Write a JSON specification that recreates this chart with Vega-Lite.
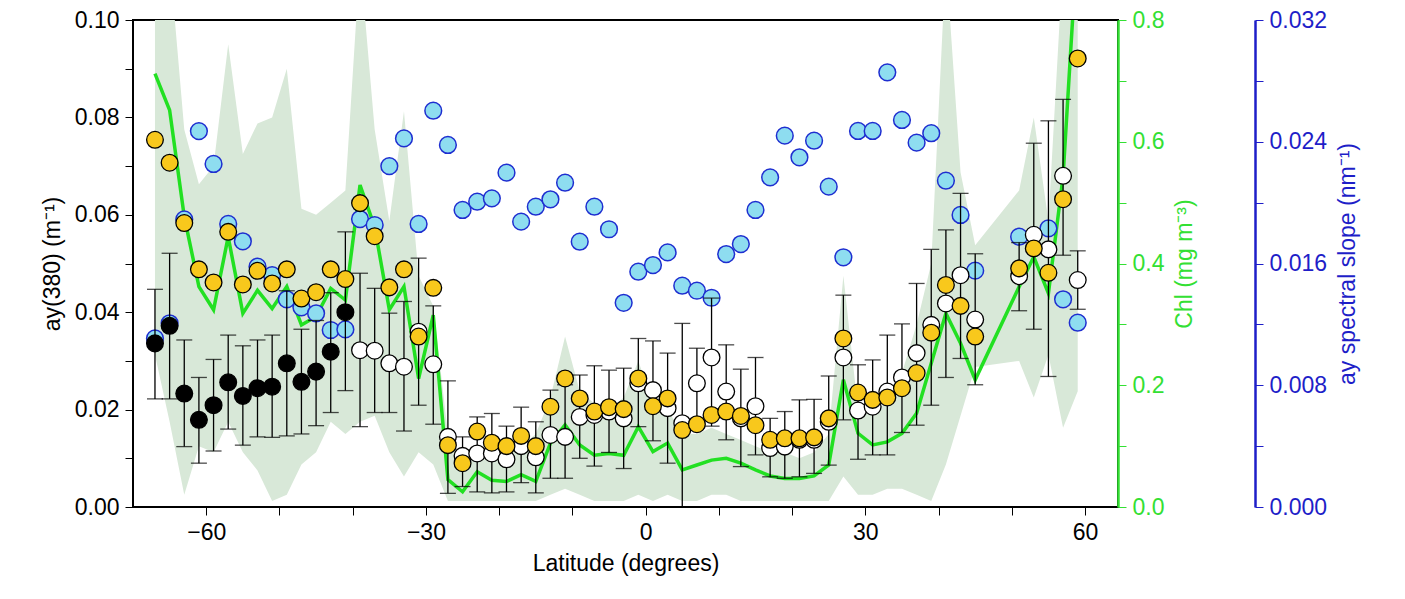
{
  "$schema": "https://vega.github.io/schema/vega-lite/v6.json",
  "width": 985,
  "height": 487,
  "autosize": "none",
  "padding": {"left": 133, "top": 20, "right": 287, "bottom": 92},
  "config": {
    "font": "Liberation Sans",
    "view": {"stroke": "black", "strokeWidth": 2},
    "axis": {"labelFontSize": 23, "titleFontSize": 23, "titleFontWeight": "normal", "grid": false, "tickSize": 8, "labelPadding": 6}
  },
  "data": {"values": [
    {"lat": -67, "yel": 0.0754, "blk": 0.0336, "lo": 0.0222, "hi": 0.0447, "blu": 0.01108, "chl": 0.712, "cmin": 0.25, "cmax": 0.9},
    {"lat": -65, "yel": 0.0707, "blk": 0.0372, "lo": 0.0222, "hi": 0.0521, "blu": 0.01207, "chl": 0.652, "cmin": 0.14, "cmax": 0.9},
    {"lat": -63, "yel": 0.0583, "blk": 0.0233, "lo": 0.0124, "hi": 0.0343, "blu": 0.0189, "chl": 0.477, "cmin": 0.02, "cmax": 0.62},
    {"lat": -61, "yel": 0.0488, "blk": 0.0179, "lo": 0.0090, "hi": 0.0266, "blu": 0.0247, "chl": 0.362, "cmin": 0.10, "cmax": 0.53},
    {"lat": -59, "yel": 0.0461, "blk": 0.0209, "lo": 0.0115, "hi": 0.0303, "blu": 0.02254, "chl": 0.324, "cmin": 0.09, "cmax": 0.56},
    {"lat": -57, "yel": 0.0565, "blk": 0.0256, "lo": 0.0160, "hi": 0.0353, "blu": 0.0186, "chl": 0.444, "cmin": 0.14, "cmax": 0.76},
    {"lat": -55, "yel": 0.0457, "blk": 0.0228, "lo": 0.0127, "hi": 0.0331, "blu": 0.01746, "chl": 0.318, "cmin": 0.09, "cmax": 0.58},
    {"lat": -53, "yel": 0.0485, "blk": 0.0244, "lo": 0.0144, "hi": 0.0343, "blu": 0.01579, "chl": 0.356, "cmin": 0.06, "cmax": 0.63},
    {"lat": -51, "yel": 0.0459, "blk": 0.0247, "lo": 0.0143, "hi": 0.0353, "blu": 0.01524, "chl": 0.326, "cmin": 0.01, "cmax": 0.64},
    {"lat": -49, "yel": 0.0488, "blk": 0.0295, "lo": 0.0146, "hi": 0.0444, "blu": 0.01365, "chl": 0.362, "cmin": 0.02, "cmax": 0.72},
    {"lat": -47, "yel": 0.0428, "blk": 0.0257, "lo": 0.0150, "hi": 0.0365, "blu": 0.01312, "chl": 0.299, "cmin": 0.07, "cmax": 0.49},
    {"lat": -45, "yel": 0.0441, "blk": 0.0278, "lo": 0.0167, "hi": 0.0383, "blu": 0.01273, "chl": 0.313, "cmin": 0.09, "cmax": 0.48},
    {"lat": -43, "yel": 0.0488, "blk": 0.0319, "lo": 0.0194, "hi": 0.0440, "blu": 0.01163, "chl": 0.359, "cmin": 0.14, "cmax": 0.50},
    {"lat": -41, "yel": 0.0468, "blk": 0.0400, "lo": 0.0239, "hi": 0.0565, "blu": 0.01167, "chl": 0.340, "cmin": 0.12, "cmax": 0.52},
    {"lat": -39, "yel": 0.0624, "wht": 0.0322, "lo": 0.0165, "hi": 0.0480, "blu": 0.01892, "chl": 0.529, "cmin": 0.14, "cmax": 0.9},
    {"lat": -37, "yel": 0.0556, "wht": 0.0321, "lo": 0.0194, "hi": 0.0449, "blu": 0.01853, "chl": 0.460, "cmin": 0.15, "cmax": 0.62},
    {"lat": -35, "yel": 0.0451, "wht": 0.0295, "lo": 0.0194, "hi": 0.0398, "blu": 0.0224, "chl": 0.324, "cmin": 0.09, "cmax": 0.47},
    {"lat": -33, "yel": 0.0488, "wht": 0.0288, "lo": 0.0156, "hi": 0.0422, "blu": 0.02422, "chl": 0.362, "cmin": 0.05, "cmax": 0.65},
    {"lat": -31, "yel": 0.0350, "wht": 0.0360, "lo": 0.0209, "hi": 0.0511, "blu": 0.0186, "chl": 0.211, "cmin": 0.09, "cmax": 0.38},
    {"lat": -29, "yel": 0.0450, "wht": 0.0293, "lo": 0.0170, "hi": 0.0413, "blu": 0.02604, "chl": 0.315, "cmin": 0.07, "cmax": 0.33},
    {"lat": -27, "yel": 0.0127, "wht": 0.0144, "lo": 0.0028, "hi": 0.0259, "blu": 0.02379, "chl": 0.045, "cmin": 0.01, "cmax": 0.12},
    {"lat": -25, "yel": 0.0090, "wht": 0.0105, "lo": 0.0042, "hi": 0.0144, "blu": 0.01952, "chl": 0.025, "cmin": 0.01, "cmax": 0.07},
    {"lat": -23, "yel": 0.0155, "wht": 0.0110, "lo": 0.0031, "hi": 0.0185, "blu": 0.02006, "chl": 0.058, "cmin": 0.01, "cmax": 0.10},
    {"lat": -21, "yel": 0.0132, "wht": 0.0110, "lo": 0.0029, "hi": 0.0192, "blu": 0.02028, "chl": 0.044, "cmin": 0.01, "cmax": 0.09},
    {"lat": -19, "yel": 0.0125, "wht": 0.0098, "lo": 0.0031, "hi": 0.0166, "blu": 0.02197, "chl": 0.042, "cmin": 0.01, "cmax": 0.09},
    {"lat": -17, "yel": 0.0146, "wht": 0.0125, "lo": 0.0050, "hi": 0.0205, "blu": 0.01875, "chl": 0.053, "cmin": 0.01, "cmax": 0.10},
    {"lat": -15, "yel": 0.0125, "wht": 0.0102, "lo": 0.0029, "hi": 0.0175, "blu": 0.01973, "chl": 0.042, "cmin": 0.01, "cmax": 0.12},
    {"lat": -13, "yel": 0.0206, "wht": 0.0148, "lo": 0.0059, "hi": 0.0240, "blu": 0.02022, "chl": 0.105, "cmin": 0.02, "cmax": 0.18},
    {"lat": -11, "yel": 0.0264, "wht": 0.0144, "lo": 0.0059, "hi": 0.0251, "blu": 0.02131, "chl": 0.135, "cmin": 0.03, "cmax": 0.28},
    {"lat": -9, "yel": 0.0223, "wht": 0.0185, "lo": 0.0100, "hi": 0.0271, "blu": 0.01743, "chl": 0.102, "cmin": 0.02, "cmax": 0.19},
    {"lat": -7, "yel": 0.0196, "wht": 0.0189, "lo": 0.0084, "hi": 0.0290, "blu": 0.01973, "chl": 0.085, "cmin": 0.01, "cmax": 0.17},
    {"lat": -5, "yel": 0.0205, "wht": 0.0196, "lo": 0.0112, "hi": 0.0281, "blu": 0.01825, "chl": 0.088, "cmin": 0.01, "cmax": 0.16},
    {"lat": -3, "yel": 0.0201, "wht": 0.0182, "lo": 0.0079, "hi": 0.0285, "blu": 0.01342, "chl": 0.085, "cmin": 0.01, "cmax": 0.18},
    {"lat": -1, "yel": 0.0264, "wht": 0.0254, "lo": 0.0165, "hi": 0.0346, "blu": 0.01546, "chl": 0.132, "cmin": 0.02, "cmax": 0.24},
    {"lat": 1, "yel": 0.0207, "wht": 0.0240, "lo": 0.0136, "hi": 0.0341, "blu": 0.0159, "chl": 0.091, "cmin": 0.01, "cmax": 0.17},
    {"lat": 3, "yel": 0.0223, "wht": 0.0203, "lo": 0.0090, "hi": 0.0316, "blu": 0.01673, "chl": 0.105, "cmin": 0.02, "cmax": 0.16},
    {"lat": 5, "yel": 0.0158, "wht": 0.0172, "lo": 0.0, "hi": 0.0377, "blu": 0.01454, "chl": 0.061, "cmin": 0.01, "cmax": 0.12},
    {"lat": 7, "yel": 0.0170, "wht": 0.0254, "lo": 0.0168, "hi": 0.0326, "blu": 0.01421, "chl": 0.069, "cmin": 0.01, "cmax": 0.12},
    {"lat": 9, "yel": 0.0189, "wht": 0.0307, "lo": 0.0166, "hi": 0.0429, "blu": 0.01375, "chl": 0.077, "cmin": 0.02, "cmax": 0.13},
    {"lat": 11, "yel": 0.0196, "wht": 0.0237, "lo": 0.0138, "hi": 0.0333, "blu": 0.01662, "chl": 0.080, "cmin": 0.02, "cmax": 0.12},
    {"lat": 13, "yel": 0.0187, "wht": 0.0182, "lo": 0.0083, "hi": 0.0283, "blu": 0.01728, "chl": 0.072, "cmin": 0.01, "cmax": 0.11},
    {"lat": 15, "yel": 0.0168, "wht": 0.0207, "lo": 0.0107, "hi": 0.0307, "blu": 0.01952, "chl": 0.061, "cmin": 0.01, "cmax": 0.10},
    {"lat": 17, "yel": 0.0138, "wht": 0.0121, "lo": 0.0062, "hi": 0.0182, "blu": 0.02166, "chl": 0.051, "cmin": 0.01, "cmax": 0.09},
    {"lat": 19, "yel": 0.0141, "wht": 0.0124, "lo": 0.0059, "hi": 0.0196, "blu": 0.0244, "chl": 0.047, "cmin": 0.01, "cmax": 0.09},
    {"lat": 21, "yel": 0.0141, "wht": 0.0138, "lo": 0.0062, "hi": 0.0220, "blu": 0.02298, "chl": 0.047, "cmin": 0.01, "cmax": 0.08},
    {"lat": 23, "yel": 0.0143, "wht": 0.0138, "lo": 0.0069, "hi": 0.0221, "blu": 0.02407, "chl": 0.051, "cmin": 0.01, "cmax": 0.09},
    {"lat": 25, "yel": 0.0182, "wht": 0.0175, "lo": 0.0086, "hi": 0.0269, "blu": 0.02105, "chl": 0.069, "cmin": 0.01, "cmax": 0.12},
    {"lat": 27, "yel": 0.0346, "wht": 0.0307, "lo": 0.0179, "hi": 0.0435, "blu": 0.01641, "chl": 0.209, "cmin": 0.05, "cmax": 0.38},
    {"lat": 29, "yel": 0.0235, "wht": 0.0198, "lo": 0.0098, "hi": 0.0292, "blu": 0.02471, "chl": 0.121, "cmin": 0.02, "cmax": 0.16},
    {"lat": 31, "yel": 0.0220, "wht": 0.0206, "lo": 0.0107, "hi": 0.0302, "blu": 0.02471, "chl": 0.102, "cmin": 0.02, "cmax": 0.16},
    {"lat": 33, "yel": 0.0225, "wht": 0.0237, "lo": 0.0107, "hi": 0.0353, "blu": 0.02856, "chl": 0.107, "cmin": 0.03, "cmax": 0.17},
    {"lat": 35, "yel": 0.0244, "wht": 0.0266, "lo": 0.0153, "hi": 0.0376, "blu": 0.02543, "chl": 0.121, "cmin": 0.03, "cmax": 0.22},
    {"lat": 37, "yel": 0.0275, "wht": 0.0316, "lo": 0.0168, "hi": 0.0459, "blu": 0.02394, "chl": 0.154, "cmin": 0.02, "cmax": 0.30},
    {"lat": 39, "yel": 0.0358, "wht": 0.0374, "lo": 0.0209, "hi": 0.0529, "blu": 0.02456, "chl": 0.236, "cmin": 0.01, "cmax": 0.40},
    {"lat": 41, "yel": 0.0456, "wht": 0.0418, "lo": 0.0266, "hi": 0.0569, "blu": 0.02144, "chl": 0.318, "cmin": 0.07, "cmax": 0.9},
    {"lat": 43, "yel": 0.0413, "wht": 0.0476, "lo": 0.0305, "hi": 0.0644, "blu": 0.01919, "chl": 0.269, "cmin": 0.15, "cmax": 0.55},
    {"lat": 45, "yel": 0.0350, "wht": 0.0385, "lo": 0.0251, "hi": 0.0520, "blu": 0.01553, "chl": 0.209, "cmin": 0.23, "cmax": 0.43},
    {"lat": 51, "yel": 0.0490, "wht": 0.0474, "lo": 0.0403, "hi": 0.0543, "blu": 0.01776, "chl": 0.362, "cmin": 0.24, "cmax": 0.52},
    {"lat": 53, "yel": 0.0531, "wht": 0.0559, "lo": 0.0365, "hi": 0.0747, "chl": 0.411, "cmin": 0.18, "cmax": 0.64},
    {"lat": 55, "yel": 0.0481, "wht": 0.0529, "lo": 0.0268, "hi": 0.0793, "blu": 0.01831, "chl": 0.351, "cmin": 0.25, "cmax": 0.47},
    {"lat": 57, "yel": 0.0632, "wht": 0.0680, "lo": 0.0517, "hi": 0.0837, "blu": 0.01365, "chl": 0.543, "cmin": 0.13, "cmax": 0.9},
    {"lat": 59, "yel": 0.0921, "wht": 0.0466, "lo": 0.0406, "hi": 0.0526, "blu": 0.01211, "chl": 0.94, "cmin": 0.19, "cmax": 1.0}
  ]},
  "encoding": {
    "x": {
      "field": "lat", "type": "quantitative",
      "scale": {"domain": [-70, 64.5], "nice": false, "zero": false},
      "axis": {
        "title": "Latitude (degrees)", "values": [-60, -50, -40, -30, -20, -10, 0, 10, 20, 30, 40, 50, 60],
        "format": "d", "labelExpr": "datum.value % 30 == 0 ? datum.label : ''",
        "domain": false, "tickColor": "black", "labelColor": "black", "titleColor": "black", "titlePadding": 8
      }
    }
  },
  "layer": [
    {
      "layer": [
        {
          "mark": {"type": "area", "color": "#D8E8D8", "clip": true},
          "encoding": {
            "y": {"field": "cmin", "type": "quantitative", "scale": {"domain": [0, 0.8], "nice": false},
              "axis": {"orient": "right", "title": "Chl (mg m⁻³)", "titleAngle": 270, "titleBaseline": "top", "values": [0, 0.1, 0.2, 0.3, 0.4, 0.5, 0.6, 0.7, 0.8], "format": ".1f",
                "labelExpr": "indexof(['0.0','0.2','0.4','0.6','0.8'], datum.label) >= 0 ? datum.label : ''",
                "domainColor": "#33E033", "domainWidth": 2.5, "tickColor": "#33E033", "labelColor": "#33E033", "titleColor": "#33E033", "titlePadding": 10}},
            "y2": {"field": "cmax"}
          }
        },
        {
          "mark": {"type": "line", "color": "#22E022", "strokeWidth": 3.5, "clip": true},
          "encoding": {"y": {"field": "chl", "type": "quantitative"}}
        }
      ]
    },
    {
      "mark": {"type": "point", "filled": true, "fill": "#8EDDF0", "stroke": "#1E2ED0", "strokeWidth": 1.5, "size": 280, "opacity": 1},
      "encoding": {
        "y": {"field": "blu", "type": "quantitative", "scale": {"domain": [0, 0.032], "nice": false},
          "axis": {"orient": "right", "offset": 137, "title": "ay spectral slope (nm⁻¹)", "titleAngle": 270, "titleBaseline": "top", "values": [0, 0.004, 0.008, 0.012, 0.016, 0.02, 0.024, 0.028, 0.032], "format": ".3f",
            "labelExpr": "indexof(['0.000','0.008','0.016','0.024','0.032'], datum.label) >= 0 ? datum.label : ''",
            "domainColor": "#1E1EC8", "domainWidth": 2.5, "tickColor": "#1E1EC8", "labelColor": "#1E1EC8", "titleColor": "#1E1EC8", "titlePadding": 10}}
      }
    },
    {
      "layer": [
        {
          "mark": {"type": "rule", "color": "black", "strokeWidth": 1.3},
          "encoding": {
            "y": {"field": "lo", "type": "quantitative", "scale": {"domain": [0, 0.1], "nice": false},
              "axis": {"orient": "left", "title": "ay(380) (m⁻¹)", "values": [0, 0.01, 0.02, 0.03, 0.04, 0.05, 0.06, 0.07, 0.08, 0.09, 0.1], "format": ".2f",
                "labelExpr": "indexof(['0.00','0.02','0.04','0.06','0.08','0.10'], datum.label) >= 0 ? datum.label : ''",
                "domain": false, "tickColor": "black", "labelColor": "black", "titleColor": "black", "titlePadding": 10}},
            "y2": {"field": "hi"}
          }
        },
        {
          "mark": {"type": "tick", "orient": "horizontal", "color": "black", "size": 16, "thickness": 1.3},
          "encoding": {"y": {"field": "lo", "type": "quantitative"}}
        },
        {
          "mark": {"type": "tick", "orient": "horizontal", "color": "black", "size": 16, "thickness": 1.3},
          "encoding": {"y": {"field": "hi", "type": "quantitative"}}
        },
        {
          "mark": {"type": "point", "filled": true, "fill": "white", "stroke": "black", "strokeWidth": 1.3, "size": 280, "opacity": 1},
          "encoding": {"y": {"field": "wht", "type": "quantitative"}}
        },
        {
          "mark": {"type": "point", "filled": true, "fill": "black", "stroke": "black", "strokeWidth": 1.3, "size": 280, "opacity": 1},
          "encoding": {"y": {"field": "blk", "type": "quantitative"}}
        },
        {
          "mark": {"type": "point", "filled": true, "fill": "#F8C81C", "stroke": "black", "strokeWidth": 1.3, "size": 280, "opacity": 1},
          "encoding": {"y": {"field": "yel", "type": "quantitative"}}
        }
      ]
    }
  ],
  "resolve": {"scale": {"y": "independent"}, "axis": {"y": "independent"}}
}
